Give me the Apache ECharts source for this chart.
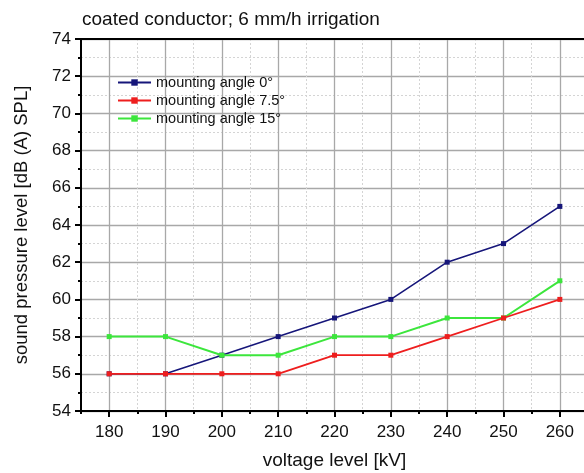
<!DOCTYPE html>
<html><head><meta charset="utf-8">
<script src="https://cdn.jsdelivr.net/npm/echarts@6/dist/echarts.min.js"></script>
<style>html,body{margin:0;padding:0;background:#fff}#c{width:584px;height:473px}</style>
</head><body><div id="c"></div>
<script>
const voltages = [180, 190, 200, 210, 220, 230, 240, 250, 260];
const angle0 = [56, 56, 57, 58, 59, 60, 62, 63, 65];
const angle75 = [56, 56, 56, 56, 57, 57, 58, 59, 60];
const angle15 = [58, 58, 57, 57, 58, 58, 59, 59, 61];
const seriesNames = ['mounting angle 0°', 'mounting angle 7.5°', 'mounting angle 15°'];
const titleText = 'coated conductor; 6 mm/h irrigation';
const xName = 'voltage level [kV]';
const yName = 'sound pressure level [dB (A) SPL]';

const pairs = arr => voltages.map((v, i) => [v, arr[i]]);
const font = 'Liberation Sans, Arial, sans-serif';
const chart = echarts.init(document.getElementById('c'));
function mk(name, data, color, width, z) {
  return {
    name, type: 'line', data: pairs(data), xAxisIndex: 0, yAxisIndex: 0,
    symbol: 'rect', symbolSize: 5, showSymbol: true, z,
    lineStyle: { color, width }, itemStyle: { color }
  };
}
chart.setOption({
  animation: false,
  title: { text: titleText, left: 77, top: 5, textStyle: { fontFamily: font, fontSize: 19, fontWeight: 'normal', color: '#111' } },
  legend: {
    data: seriesNames, orient: 'vertical', left: 112, top: 70,
    itemWidth: 33, itemHeight: 8, itemGap: 3,
    textStyle: { fontFamily: font, fontSize: 14.5, color: '#111' }
  },
  grid: { left: 81, width: 507, top: 39, bottom: 62, containLabel: false, outerBoundsMode: 'none' },
  xAxis: [
    {
      type: 'value', position: 'bottom', min: 175, max: 265, interval: 10,
      axisLine: { lineStyle: { color: '#000', width: 2 } },
      axisTick: { show: true, length: 3, lineStyle: { color: '#000', width: 2 } },
      minorTick: { show: true, splitNumber: 2, length: 6, lineStyle: { color: '#000', width: 2 } },
      axisLabel: { show: false },
      splitLine: { show: true, lineStyle: { color: '#d4d4d4', type: [2, 2], width: 1 } },
      minorSplitLine: { show: true, lineStyle: { color: '#a8a8a8', width: 1.3 } },
      name: xName, nameLocation: 'middle', nameGap: 40,
      nameTextStyle: { fontFamily: font, fontSize: 19, color: '#111' }
    },
    {
      type: 'value', position: 'bottom', min: 175, max: 265, interval: 5,
      axisLine: { show: false }, axisTick: { show: false }, splitLine: { show: false },
      axisLabel: {
        margin: 13, fontFamily: font, fontSize: 17, color: '#111',
        formatter: v => (v % 10 === 0 && v >= 180 && v <= 260) ? String(v) : ''
      }
    },
    {
      type: 'value', position: 'top', min: 175, max: 265,
      axisLine: { lineStyle: { color: '#000', width: 2 } },
      axisTick: { show: false }, axisLabel: { show: false }, splitLine: { show: false }
    }
  ],
  yAxis: {
    type: 'value', min: 54, max: 74, interval: 2,
    axisLine: { show: true, lineStyle: { color: '#000', width: 2 } },
    axisTick: { show: true, length: 6, lineStyle: { color: '#000', width: 2 } },
    minorTick: { show: true, splitNumber: 2, length: 3, lineStyle: { color: '#000', width: 2 } },
    axisLabel: { margin: 10, fontFamily: font, fontSize: 17, color: '#111' },
    splitLine: { show: true, lineStyle: { color: '#a8a8a8', width: 1.3 } },
    minorSplitLine: { show: true, lineStyle: { color: '#d4d4d4', type: [2, 2], width: 1 } },
    name: yName, nameLocation: 'middle', nameGap: 50, nameRotate: 90,
    nameTextStyle: { fontFamily: font, fontSize: 18.5, color: '#111' }
  },
  series: [
    mk(seriesNames[0], angle0, '#16167a', 1.6, 2),
    mk(seriesNames[2], angle15, '#3ce63c', 2, 3),
    mk(seriesNames[1], angle75, '#ee1e1e', 1.8, 4)
  ]
});
</script></body></html>
